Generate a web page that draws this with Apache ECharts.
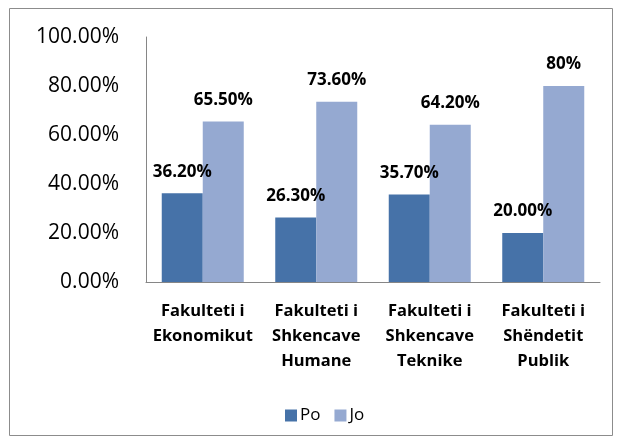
<!DOCTYPE html>
<html>
<head>
<meta charset="utf-8">
<script src="https://cdn.jsdelivr.net/npm/echarts@6/dist/echarts.min.js"></script>
<style>
  html, body { margin: 0; padding: 0; background: #fff; }
  #chart { width: 618px; height: 443px; }
</style>
</head>
<body>
<div id="chart"></div>
<script>
const categories = [
  'Fakulteti i\nEkonomikut',
  'Fakulteti i\nShkencave\nHumane',
  'Fakulteti i\nShkencave\nTeknike',
  'Fakulteti i\nShëndetit\nPublik'
]
const poValues = [36.2, 26.3, 35.7, 20.0]
const joValues = [65.5, 73.6, 64.2, 80]
const joLabels = ['65.50%', '73.60%', '64.20%', '80%']

const font = 'Open Sans, Liberation Sans, sans-serif'

const chart = echarts.init(document.getElementById('chart'))

const option = {
  animation: false,
  textStyle: { fontFamily: font },
  graphic: [
    {
      type: 'rect',
      shape: { x: 9.5, y: 8.5, width: 603, height: 427 },
      style: { fill: 'none', stroke: '#8c8c8c', lineWidth: 1 },
      silent: true
    }
  ],
  grid: { left: 146, right: 18, top: 37, bottom: 161, containLabel: false },
  legend: {
    top: 402,
    left: 280,
    itemWidth: 12,
    itemHeight: 12,
    itemGap: 14,
    icon: 'rect',
    textStyle: { fontSize: 17, color: '#000', fontFamily: font, padding: [0, 0, 0, -2] },
    data: ['Po', 'Jo']
  },
  xAxis: {
    type: 'category',
    data: categories,
    axisLine: { lineStyle: { color: '#868686', width: 1 } },
    axisTick: { show: false },
    axisLabel: {
      color: '#000',
      fontSize: 16.5,
      fontWeight: 'bold',
      lineHeight: 25,
      margin: 17,
      interval: 0
    }
  },
  yAxis: {
    type: 'value',
    min: 0,
    max: 100,
    interval: 20,
    axisLine: { show: true, lineStyle: { color: '#868686', width: 1 } },
    axisTick: { show: false },
    splitLine: { show: false },
    axisLabel: {
      color: '#000',
      fontSize: 21,
      margin: 27,
      padding: [4, 0, 0, 0],
      formatter: (v) => v.toFixed(2) + '%'
    }
  },
  series: [
    {
      name: 'Po',
      type: 'bar',
      data: poValues,
      barWidth: 41,
      barGap: '0%',
      itemStyle: { color: '#4672a8' },
      label: {
        show: true,
        position: 'top',
        distance: 13,
        color: '#000',
        fontSize: 17,
        fontWeight: 'bold',
        formatter: (p) => p.value.toFixed(2) + '%'
      }
    },
    {
      name: 'Jo',
      type: 'bar',
      data: joValues,
      barWidth: 41,
      barGap: '0%',
      itemStyle: { color: '#95a9d1' },
      label: {
        show: true,
        position: 'top',
        distance: 13,
        color: '#000',
        fontSize: 17,
        fontWeight: 'bold',
        formatter: (p) => joLabels[p.dataIndex]
      }
    }
  ]
}

chart.setOption(option)
</script>
</body>
</html>
